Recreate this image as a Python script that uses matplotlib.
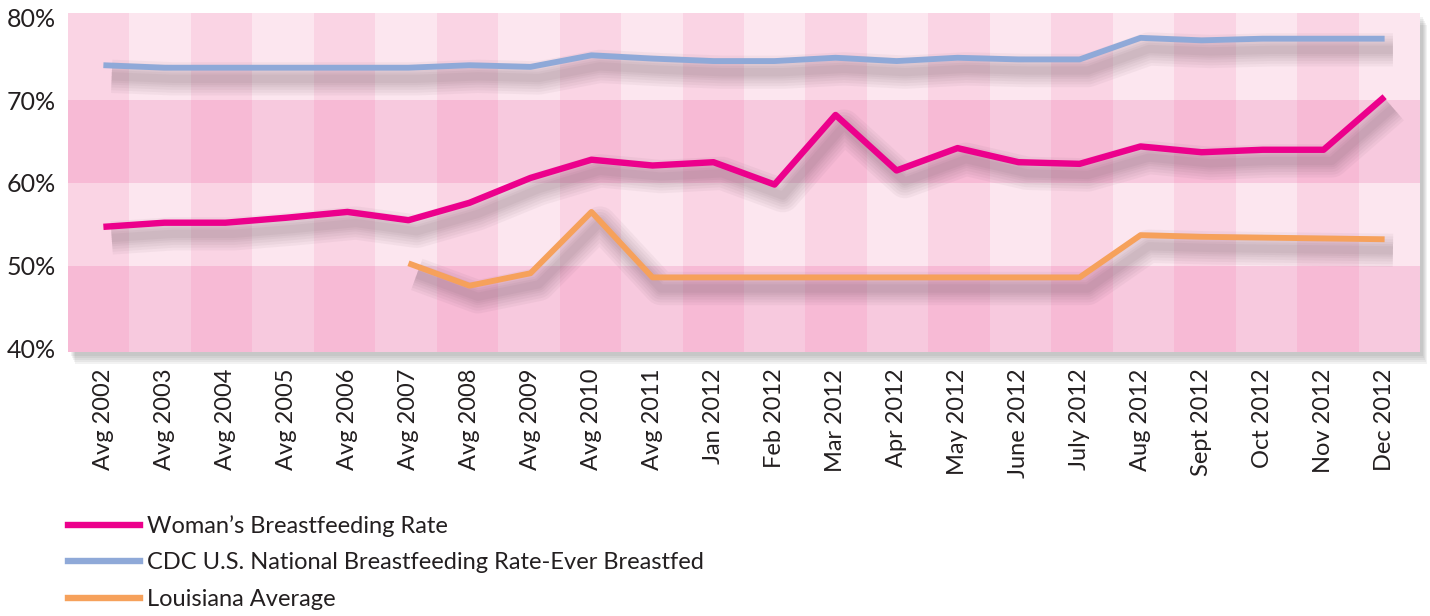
import matplotlib
matplotlib.use('Agg')
import matplotlib.pyplot as plt
import matplotlib.patheffects as pe
from matplotlib.patches import Rectangle
from matplotlib.lines import Line2D
from matplotlib.transforms import blended_transform_factory
import numpy as np

plt.rcParams['font.family'] = ['Lato', 'DejaVu Sans']

# categories and values
labels = ['Avg 2002', 'Avg 2003', 'Avg 2004', 'Avg 2005', 'Avg 2006', 'Avg 2007',
          'Avg 2008', 'Avg 2009', 'Avg 2010', 'Avg 2011', 'Jan 2012', 'Feb 2012',
          'Mar 2012', 'Apr 2012', 'May 2012', 'June 2012', 'July 2012', 'Aug 2012',
          'Sept 2012', 'Oct 2012', 'Nov 2012', 'Dec 2012']
woman = [54.7, 55.2, 55.2, 55.8, 56.5, 55.5, 57.6, 60.6, 62.8, 62.1, 62.5,
         59.8, 68.2, 61.5, 64.2, 62.5, 62.3, 64.4, 63.7, 64.0, 64.0, 70.4]
cdc = [74.2, 73.9, 73.9, 73.9, 73.9, 73.9, 74.2, 74.0, 75.4, 75.0, 74.7,
       74.7, 75.1, 74.7, 75.1, 74.9, 74.9, 77.5, 77.2, 77.4, 77.4, 77.4]
louisiana = [None, None, None, None, None, 50.3, 47.6, 49.1, 56.5, 48.6, 48.6,
             48.6, 48.6, 48.6, 48.6, 48.6, 48.6, 53.7, 53.5, 53.4, 53.3, 53.2]
series_names = ['Woman\u2019s Breastfeeding Rate',
                'CDC U.S. National Breastfeeding Rate-Ever Breastfed',
                'Louisiana Average']
colors = ['#ec008c', '#8fa9d8', '#f6a15b']

W, H = 1430, 616
fig = plt.figure(figsize=(W / 100, H / 100), dpi=100)
l, r, b, t = 68, 1420, 352, 13
ax = fig.add_axes([l / W, 1 - b / H, (r - l) / W, (b - t) / H])

# drop shadow behind the plot area
for i in range(5):
    fig.patches.append(Rectangle(((l + 3 + i) / W, 1 - (b + 4 + i * 2) / H),
                                 (r - l) / W, (b - t) / H,
                                 transform=fig.transFigure, color='#505050',
                                 alpha=0.07, lw=0, zorder=-5))

x = np.arange(len(labels))
n = len(labels)
ax.set_xlim(-0.58, n - 1 + 0.58)
ax.set_ylim(39.6, 80.5)

# checkered pink background
tr = blended_transform_factory(ax.transAxes, ax.transData)
light = ['#fad4e4', '#fce6ef']
dark = ['#f7bad5', '#f7c9de']
ncol = 22
row_edges = [39.6, 50, 60, 70, 80.5]
for ri in range(4):
    pal = dark if ri in (0, 2) else light
    for ci in range(ncol):
        ax.add_patch(Rectangle((ci / ncol, row_edges[ri]), 1 / ncol + 0.0005,
                               row_edges[ri + 1] - row_edges[ri],
                               transform=tr, color=pal[ci % 2], lw=0, zorder=0))

def shadow():
    fx = [pe.SimpleLineShadow(offset=(6, -8), shadow_color='#5a4450', alpha=0.05,
                              linewidth=w) for w in (24, 20, 16, 12, 9, 6)]
    return fx + [pe.Normal()]

lo = np.array([np.nan if v is None else v for v in louisiana])
for ys, c, lw in zip([woman, cdc, lo], colors, [4.6, 4.2, 4.2]):
    ax.plot(x, ys, color=c, lw=lw, solid_capstyle='butt', zorder=3,
            path_effects=shadow())

for s in ax.spines.values():
    s.set_visible(False)
ax.set_yticks([40, 50, 60, 70, 80])
ax.set_yticklabels(['40%', '50%', '60%', '70%', '80%'], fontsize=18, color='#231f20')
ax.set_xticks(x)
ax.set_xticklabels(labels, rotation=90, fontsize=17, color='#231f20')
ax.tick_params(length=0)
ax.tick_params(axis='y', pad=9)
ax.tick_params(axis='x', pad=12)

handles = [Line2D([], [], color=c, lw=4.6) for c in colors]
fig.legend(handles=handles, labels=series_names, loc='upper left', frameon=False,
           bbox_to_anchor=(68 / W, 1 - 515 / H), fontsize=17, handlelength=3.05,
           handletextpad=0.3, labelspacing=0.66, borderpad=0, borderaxespad=0,
           labelcolor='#231f20')

fig.savefig('out.png', dpi=100, facecolor='white')
